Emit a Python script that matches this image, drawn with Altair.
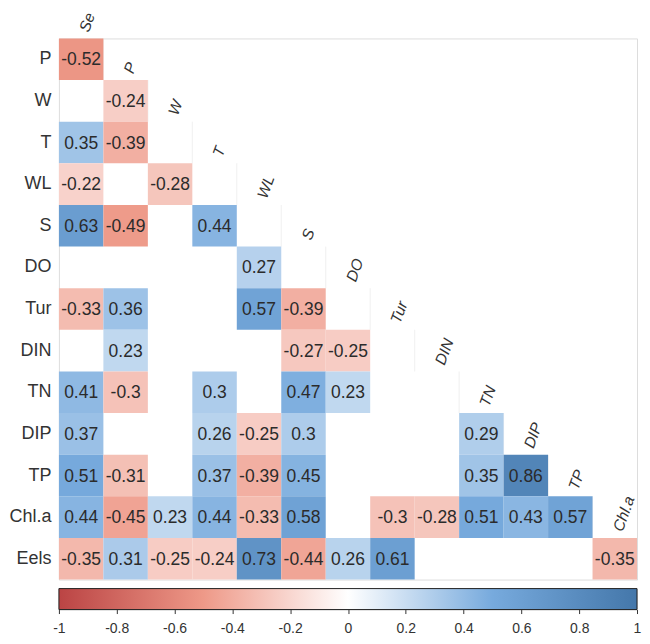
import altair as alt
import pandas as pd

# ---- data ----
row_names = ["P", "W", "T", "WL", "S", "DO", "Tur", "DIN", "TN", "DIP", "TP", "Chl.a", "Eels"]
col_names = ["Se", "P", "W", "T", "WL", "S", "DO", "Tur", "DIN", "TN", "DIP", "TP", "Chl.a"]

# significant correlations of each row, aligned with col_names (None = blank cell)
r_P = [-0.52]
r_W = [None, -0.24]
r_T = [0.35, -0.39, None]
r_WL = [-0.22, None, -0.28, None]
r_S = [0.63, -0.49, None, 0.44, None]
r_DO = [None, None, None, None, 0.27, None]
r_Tur = [-0.33, 0.36, None, None, 0.57, -0.39, None]
r_DIN = [None, 0.23, None, None, None, -0.27, -0.25, None]
r_TN = [0.41, -0.3, None, 0.3, None, 0.47, 0.23, None, None]
r_DIP = [0.37, None, None, 0.26, -0.25, 0.3, None, None, None, 0.29]
r_TP = [0.51, -0.31, None, 0.37, -0.39, 0.45, None, None, None, 0.35, 0.86]
r_Chla = [0.44, -0.45, 0.23, 0.44, -0.33, 0.58, None, -0.3, -0.28, 0.51, 0.43, 0.57]
r_Eels = [-0.35, 0.31, -0.25, -0.24, 0.73, -0.44, 0.26, 0.61, None, None, None, None, -0.35]

corr_rows = [r_P, r_W, r_T, r_WL, r_S, r_DO, r_Tur, r_DIN, r_TN, r_DIP, r_TP, r_Chla, r_Eels]

palette = ["#BB4444", "#EE9988", "#FFFFFF", "#77AADD", "#4477AA"]
palette_stops = [-1, -0.5, 0, 0.5, 1]
bar_ticks = [-1, -0.8, -0.6, -0.4, -0.2, 0, 0.2, 0.4, 0.6, 0.8, 1]

# ---- tables ----
cells = []
for i, vals in enumerate(corr_rows):
    for j, v in enumerate(vals):
        if v is not None:
            cells.append({"row": row_names[i], "col": col_names[j], "r": v, "label": f"{v:g}"})
cells_df = pd.DataFrame(cells)

diag_df = pd.DataFrame({"col": col_names, "row": row_names, "name": col_names})
edge_df = pd.DataFrame({"col": col_names[1:], "row": row_names[:-1]})

FONT = "Liberation Sans"
W, H = 579, 542
BAND_H = H / len(row_names)

xs = alt.Scale(domain=col_names, paddingInner=0, paddingOuter=0, round=False)
ys = alt.Scale(domain=row_names, paddingInner=0, paddingOuter=0, round=False)
cs = alt.Scale(domain=palette_stops, range=palette, interpolate="rgb")

y_axis = alt.Axis(title=None, ticks=False, domain=False, labelFontSize=18,
                  labelColor="#333333", labelFont=FONT, labelPadding=8, labelLimit=0)

rects = alt.Chart(cells_df).mark_rect().encode(
    x=alt.X("col:N", scale=xs, axis=None),
    y=alt.Y("row:N", scale=ys, axis=y_axis),
    color=alt.Color("r:Q", scale=cs, legend=None),
)

texts = alt.Chart(cells_df).mark_text(font=FONT, fontSize=17.5, color="#2b2b2b",
                                      baseline="middle", dy=1).encode(
    x=alt.X("col:N", scale=xs, axis=None),
    y=alt.Y("row:N", scale=ys),
    text="label:N",
)

edges = alt.Chart(edge_df).mark_tick(orient="vertical", size=BAND_H, thickness=1,
                                     color="#e9e9e9").encode(
    x=alt.X("col:N", scale=xs, axis=None, bandPosition=0),
    y=alt.Y("row:N", scale=ys),
)

diag = alt.Chart(diag_df).mark_text(font=FONT, fontSize=15.5, fontStyle="italic",
                                    color="#333333", angle=290, align="left",
                                    baseline="middle", xOffset=3,
                                    yOffset=-BAND_H + 13.6).encode(
    x=alt.X("col:N", scale=xs, axis=None),
    y=alt.Y("row:N", scale=ys),
    text="name:N",
)

heat = alt.layer(edges, rects, texts, diag).properties(width=W, height=H)

# ---- colour bar ----
bar_df = pd.DataFrame({"lo": [palette_stops[0]], "hi": [palette_stops[-1]]})
grad = alt.Gradient(
    gradient="linear",
    stops=[alt.GradientStop(color=c, offset=(s + 1) / 2) for c, s in zip(palette, palette_stops)],
    x1=0, x2=1, y1=0, y2=0,
)
cbar = alt.Chart(bar_df).mark_rect(fill=grad, stroke="#222222", strokeWidth=1).encode(
    x=alt.X("lo:Q",
            scale=alt.Scale(domain=[-1, 1], nice=False, zero=False),
            axis=alt.Axis(values=bar_ticks, title=None, grid=False, domain=False,
                          ticks=True, tickSize=4, tickColor="#333333", tickWidth=1,
                          labelFontSize=14, labelFont=FONT, labelColor="#333333",
                          labelPadding=8, labelFlush=False, labelOverlap=False,
                          labelExpr="(datum.value < 0 ? '-' : '') + format(abs(datum.value), '')")),
    x2="hi:Q",
).properties(width=W, height=21)

chart = alt.vconcat(heat, cbar, spacing=9, bounds="flush").properties(
    padding={"left": 0, "top": 2, "right": 0, "bottom": 0}
).configure_view(stroke=None).configure(background="white")

chart.save("out.html", embed_options={"renderer": "svg", "actions": False})
